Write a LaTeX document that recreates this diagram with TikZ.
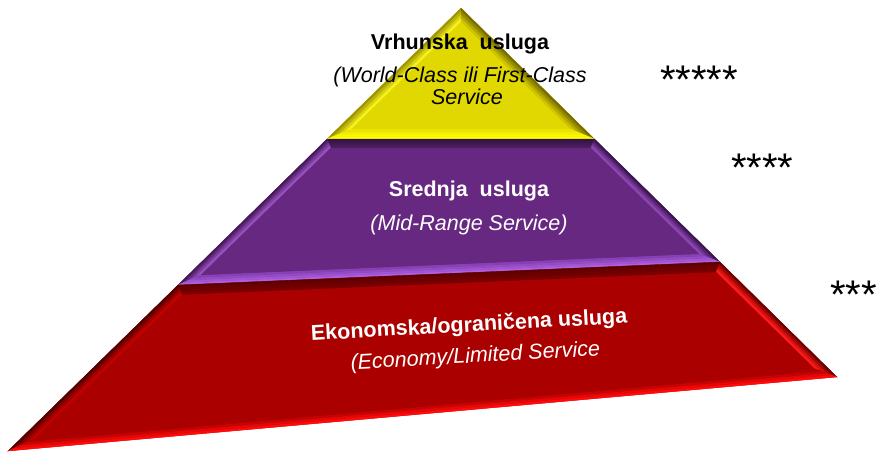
\documentclass[tikz,border=0pt]{standalone}
\usepackage{fontspec}
\setmainfont{Liberation Sans}
\usetikzlibrary{calc}
\definecolor{ymain}{RGB}{224,216,0}
\definecolor{yedgeL}{RGB}{160,150,0}
\definecolor{yinL}{RGB}{245,240,30}
\definecolor{yedgeR}{RGB}{120,110,0}
\definecolor{yinR}{RGB}{205,195,0}
\definecolor{ybotO}{RGB}{255,255,0}
\definecolor{ybotI}{RGB}{235,228,0}
\definecolor{pmain}{RGB}{102,40,128}
\definecolor{ptopO}{RGB}{50,18,65}
\definecolor{ptopI}{RGB}{75,30,95}
\definecolor{pedgeL}{RGB}{70,25,90}
\definecolor{pinL}{RGB}{150,80,190}
\definecolor{pedgeR}{RGB}{60,20,80}
\definecolor{pinR}{RGB}{140,70,180}
\definecolor{pbotO}{RGB}{175,95,225}
\definecolor{pbotI}{RGB}{135,65,180}
\definecolor{rmain}{RGB}{170,0,0}
\definecolor{rtopO}{RGB}{95,0,0}
\definecolor{rtopI}{RGB}{120,0,0}
\definecolor{redgeL}{RGB}{85,0,0}
\definecolor{rinL}{RGB}{195,0,0}
\definecolor{redgeR}{RGB}{110,0,0}
\definecolor{rinR}{RGB}{255,25,25}
\definecolor{rbotO}{RGB}{255,10,10}
\definecolor{rbotI}{RGB}{170,0,0}
% bevel strip: outer1 outer2 inner1 inner2 colourOuter colourInner
\newcommand\bevelstrip[6]{%
  \foreach \fa/\fb/\pc in {0/0.25/100,0.25/0.5/67,0.5/0.75/33,0.75/1/0}{%
    \filldraw[draw=#5!\pc!#6,fill=#5!\pc!#6,line width=0.3pt,line join=miter]
      ($(#1)!\fa!(#3)$) -- ($(#2)!\fa!(#4)$) -- ($(#2)!\fb!(#4)$) -- ($(#1)!\fb!(#3)$) -- cycle;
  }}
\tikzset{
  tierlabel/.style={inner sep=0pt,anchor=base,font=\fontsize{21.5}{24}\selectfont\bfseries},
  tiersub/.style={inner sep=0pt,anchor=base,font=\fontsize{21.5}{24}\selectfont\itshape},
  starlabel/.style={inner sep=0pt,anchor=base west,font=\fontsize{40}{44}\selectfont}
}
\begin{document}
\begin{tikzpicture}[x=1pt,y=-1pt]
\useasboundingbox (0,0) rectangle (879,452);
\clip (0,0) rectangle (879,452);
% outer vertices
\coordinate (A) at (461,8);
\coordinate (YL) at (327,139);
\coordinate (YR) at (594.5,139);
\coordinate (PL) at (178,285);
\coordinate (PR) at (720,262);
\coordinate (BL) at (8,451);
\coordinate (BR) at (837,377);
% yellow inner
\coordinate (yA) at (461,22);
\coordinate (yL) at (351.5,129);
\coordinate (yR) at (570.1,129);
% purple inner
\coordinate (pTL) at (330.7,148);
\coordinate (pTR) at (590.9,148);
\coordinate (pBR) at (699,253.9);
\coordinate (pBL) at (200.8,275);
% red inner
\coordinate (rTL) at (181.9,294.8);
\coordinate (rTR) at (716.2,272.2);
\coordinate (rBR) at (814.9,368.9);
\coordinate (rBL) at (34.9,438.6);
% yellow tier
\fill[ymain] (A) -- (YL) -- (YR) -- cycle;
\bevelstrip{A}{YL}{yA}{yL}{yedgeL}{yinL}
\bevelstrip{A}{YR}{yA}{yR}{yedgeR}{yinR}
\bevelstrip{YL}{YR}{yL}{yR}{ybotO}{ybotI}
\fill[ymain] (yA) -- (yL) -- (yR) -- cycle;
% purple tier
\fill[pmain] (YL) -- (YR) -- (PR) -- (PL) -- cycle;
\bevelstrip{YL}{YR}{pTL}{pTR}{ptopO}{ptopI}
\bevelstrip{YL}{PL}{pTL}{pBL}{pedgeL}{pinL}
\bevelstrip{YR}{PR}{pTR}{pBR}{pedgeR}{pinR}
\bevelstrip{PL}{PR}{pBL}{pBR}{pbotO}{pbotI}
\fill[pmain] (pTL) -- (pTR) -- (pBR) -- (pBL) -- cycle;
% red tier
\fill[rmain] (PL) -- (PR) -- (BR) -- (BL) -- cycle;
\bevelstrip{PL}{PR}{rTL}{rTR}{rtopO}{rtopI}
\bevelstrip{PL}{BL}{rTL}{rBL}{redgeL}{rinL}
\bevelstrip{PR}{BR}{rTR}{rBR}{redgeR}{rinR}
\bevelstrip{BL}{BR}{rBL}{rBR}{rbotO}{rbotI}
\fill[rmain] (rTL) -- (rTR) -- (rBR) -- (rBL) -- cycle;
% labels
\node[tierlabel,text=black] (top1) at (460,50) {Vrhunska~~usluga};
\node[tiersub,text=black] (top2) at (460,83) {(World-Class ili First-Class};
\node[tiersub,text=black] (top3) at (467,105) {Service};
\node[tierlabel,text=white] (mid1) at (469,196) {Srednja~~usluga};
\node[tiersub,text=white] (mid2) at (469,230) {(Mid-Range Service)};
\node[inner sep=0pt,anchor=center,align=center,text=white,rotate=3.2,
      font=\fontsize{21.5}{24}\selectfont] (low) at (470,341.5)
  {{\bfseries Ekonomska/ograničena usluga}\\[7pt]{\itshape\hspace*{9pt}(Economy/Limited Service}};
% stars
\node[starlabel] (s5) at (660,94) {*****};
\node[starlabel] (s4) at (731,181) {****};
\node[starlabel] (s3) at (830,308) {***};
\end{tikzpicture}
\end{document}
